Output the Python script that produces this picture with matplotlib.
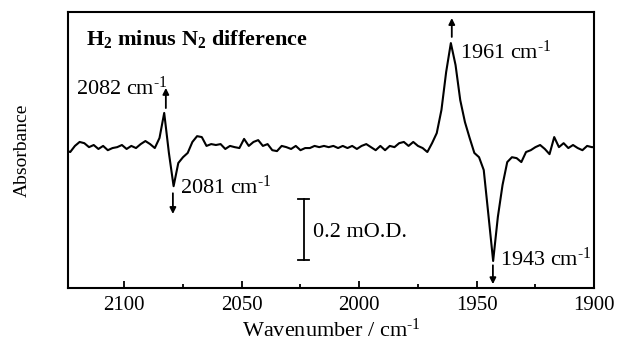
import numpy as np
import matplotlib
matplotlib.use("Agg")
import matplotlib.pyplot as plt
from matplotlib.ticker import MultipleLocator

plt.rcParams['font.family'] = ['Liberation Serif', 'DejaVu Serif']
plt.rcParams['mathtext.fontset'] = 'custom'
plt.rcParams['mathtext.rm'] = 'Liberation Serif'
plt.rcParams['mathtext.bf'] = 'Liberation Serif:bold'
plt.rcParams['mathtext.default'] = 'regular'

# difference spectrum, mO.D. (odd wavenumbers, 2 cm-1 apart)
wavenumber = np.arange(2125, 1898, -2)
absorbance = [
    -0.007, -0.013, 0.007, 0.020, 0.016, 0.003, 0.010, -0.003, 0.007, -0.007,
    0.000, 0.003, 0.010, -0.003, 0.007, 0.000, 0.013, 0.023, 0.013, 0.000,
    0.033, 0.115, -0.016, -0.125, -0.049, -0.030, -0.016, 0.020,
    0.039, 0.036, 0.007, 0.013, 0.010, 0.013, -0.003, 0.007, 0.003, 0.000,
    0.030, 0.007, 0.020, 0.026, 0.007, 0.013, -0.007, -0.010, 0.007, 0.003,
    -0.003, 0.007, -0.007, 0.000, 0.000, 0.007, 0.003, 0.007, 0.003, 0.007,
    0.000, 0.007, 0.000, 0.007, -0.003, 0.007, 0.013, 0.003, -0.007, 0.007,
    -0.007, 0.007, 0.003, 0.016, 0.020, 0.007, 0.020, 0.007, 0.000, -0.013,
    0.016, 0.049, 0.125, 0.249, 0.344, 0.272, 0.157, 0.085, 0.033, -0.016,
    -0.030, -0.072, -0.220, -0.370, -0.226, -0.121, -0.046, -0.030, -0.033, -0.046,
    -0.013, -0.007, 0.003, 0.010, -0.003, -0.020, 0.036, 0.003, 0.016, 0.000,
    0.010, 0.000, -0.007, 0.007, 0.003, 0.003,
]

# peak labels: text, arrow x, arrow start y, arrow tip y, text x, text y
sup = "$^{\u20101}$"
peak_labels = ["2082 cm" + sup, "2081 cm" + sup, "1961 cm" + sup, "1943 cm" + sup]
arrow_x = [2082.3, 2079.3, 1960.6, 1943.1]
arrow_from = [0.131, -0.148, 0.364, -0.384]
arrow_to = [0.197, -0.216, 0.426, -0.446]
label_x = [2120.6, 2076.3, 1957.2, 1940.2]
label_y = [0.174, -0.151, 0.292, -0.387]

scale_x = 2023.6
scale_bottom = -0.367
scale_size = 0.2

fig = plt.figure(figsize=(6.17, 3.41), dpi=100)
ax = fig.add_axes([0.110, 0.155, 0.853, 0.810])

ax.plot(wavenumber, absorbance, color='black', lw=1.5)

for i in range(len(peak_labels)):
    ax.annotate("", xy=(arrow_x[i], arrow_to[i]), xytext=(arrow_x[i], arrow_from[i]),
                arrowprops=dict(arrowstyle='-|>', color='black', lw=1.3,
                                mutation_scale=9, shrinkA=0, shrinkB=0))
    ax.text(label_x[i], label_y[i], peak_labels[i], fontsize=16, ha='left', va='baseline')

# scale bar
ax.plot([scale_x, scale_x], [scale_bottom, scale_bottom + scale_size], color='black', lw=1.3)
ax.plot([scale_x - 2.3, scale_x + 2.3], [scale_bottom, scale_bottom], color='black', lw=1.3)
ax.plot([scale_x - 2.3, scale_x + 2.3], [scale_bottom + scale_size] * 2, color='black', lw=1.3)
ax.text(2019.7, -0.292, "0.2 mO.D.", fontsize=16, ha='left', va='baseline')

ax.text(0.034, 0.880, "H$_2$ minus N$_2$ difference", transform=ax.transAxes,
        fontsize=16, fontweight='bold', ha='left', va='baseline')

ax.set_xlim(2124, 1900)
ax.set_ylim(-0.459, 0.446)
ax.xaxis.set_major_locator(MultipleLocator(50))
ax.xaxis.set_minor_locator(MultipleLocator(25))
ax.tick_params(axis='x', which='major', direction='in', length=5, width=1.3, labelsize=15, pad=6)
ax.tick_params(axis='x', which='minor', direction='in', length=3, width=1.3)
ax.set_yticks([])
for s in ax.spines.values():
    s.set_linewidth(1.5)

ax.set_xlabel("Wavenumber / cm" + sup, fontsize=16, labelpad=2)
ax.set_ylabel("Absorbance", fontsize=14, labelpad=27)

fig.savefig("out.png", dpi=100)
